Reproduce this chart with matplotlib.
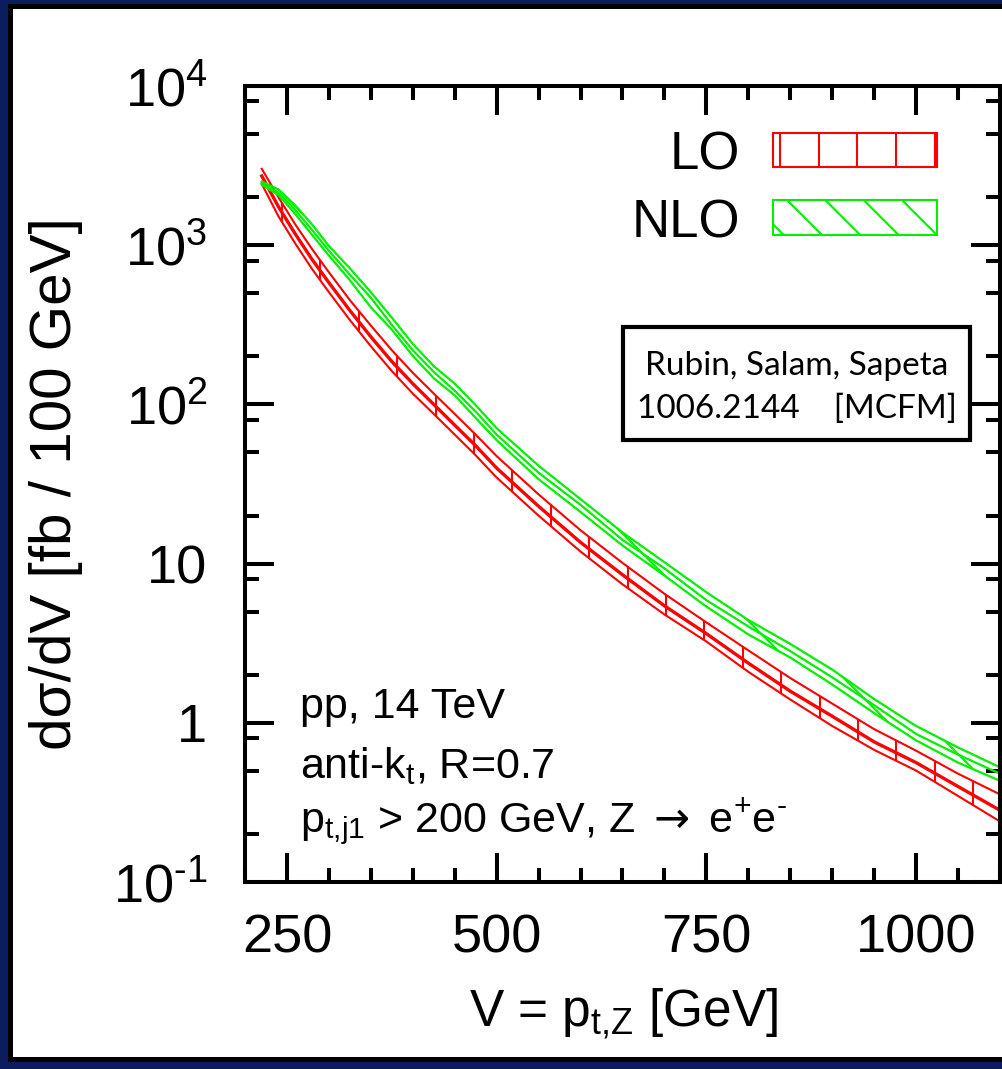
import numpy as np
import matplotlib
matplotlib.use("Agg")
import matplotlib.pyplot as plt
from matplotlib.collections import LineCollection
from matplotlib.patches import Rectangle
from matplotlib.transforms import IdentityTransform
from matplotlib.ticker import MultipleLocator, LogLocator, NullFormatter

plt.rcParams['font.family'] = ['Liberation Sans', 'DejaVu Sans']
plt.rcParams['mathtext.fontset'] = 'custom'
plt.rcParams['mathtext.rm'] = 'Liberation Sans'
plt.rcParams['mathtext.it'] = 'Liberation Sans:italic'
plt.rcParams['mathtext.sf'] = 'DejaVu Sans'
plt.rcParams['mathtext.default'] = 'rm'

# V = pt,Z [GeV]
pt = [220, 240, 260, 280, 300, 325, 350, 375, 400, 425, 450, 475, 500,
      550, 600, 650, 700, 750, 800, 850, 900, 950, 1000, 1050, 1100]

# LO band (fb / 100 GeV)
lo_mid = [2720, 1740, 1175, 813, 582, 389, 266, 186, 135, 100, 74.1, 55.0, 39.8,
          22.9, 13.6, 8.51, 5.43, 3.63, 2.37, 1.58, 1.10, 0.759, 0.562, 0.398, 0.282]
lo_hi = [3020, 1995, 1349, 944, 676, 452, 313, 219, 158, 117, 87.1, 64.6, 47.3,
         27.2, 16.2, 10.1, 6.46, 4.27, 2.85, 1.91, 1.32, 0.912, 0.668, 0.479, 0.355]
lo_lo = [2427, 1514, 1023, 708, 507, 339, 232, 162, 117, 87.1, 64.6, 47.9, 34.7,
         20.0, 11.9, 7.41, 4.79, 3.24, 2.09, 1.40, 0.955, 0.676, 0.501, 0.347, 0.240]

# NLO band
nlo_mid = [2455, 2138, 1660, 1245, 923, 653, 468, 316, 219, 160, 122, 90.2, 64.6,
           37.2, 23.4, 14.1, 9.33, 5.89, 4.03, 2.82, 1.93, 1.29, 0.851, 0.631, 0.479]
nlo_hi = [2512, 2239, 1778, 1349, 989, 716, 507, 351, 240, 174, 135, 98.9, 70.8,
          41.2, 25.4, 15.7, 10.2, 6.61, 4.42, 3.13, 2.16, 1.41, 0.955, 0.700, 0.525]
nlo_lo = [2399, 2065, 1567, 1161, 861, 603, 407, 295, 202, 146, 114, 82.2, 59.6,
          33.9, 21.1, 13.0, 8.41, 5.37, 3.59, 2.57, 1.74, 1.15, 0.776, 0.562, 0.432]

xticks = [250, 500, 750, 1000]
yticks = [0.1, 1, 10, 100, 1000, 10000]
ylabels = ['$10^{\\text{-}1}$', '1', '10', '$10^{2}$', '$10^{3}$', '$10^{4}$']

RED = '#ff0000'
GREEN = '#00f000'
W, H = 1003, 1069

fig = plt.figure(figsize=(W / 100, H / 100), dpi=100, facecolor='#0b1d5c')
# slide frame: black line and white panel (behind the axes)
fig.add_artist(Rectangle((8 / W, 7 / H), 1.0, (H - 4 - 7) / H, facecolor='black',
                         edgecolor='none', transform=fig.transFigure, zorder=-3))
fig.add_artist(Rectangle((13 / W, 12 / H), 1.0, (H - 9 - 12) / H, facecolor='white',
                         edgecolor='none', transform=fig.transFigure, zorder=-2))

ax = fig.add_axes([245 / W, 187 / H, 755 / W, 796 / H])
ax.set_facecolor('white')
ax.set_yscale('log')
ax.set_xlim(200, 1100)
ax.set_ylim(0.1, 1e4)

# bands
lo_band = ax.fill_between(pt, lo_lo, lo_hi, facecolor='none', edgecolor='none')
nlo_band = ax.fill_between(pt, nlo_lo, nlo_hi, facecolor='none', edgecolor='none')

for arr, lw in [(lo_hi, 1.5), (lo_lo, 1.5), (lo_mid, 2.4)]:
    ax.plot(pt, arr, color=RED, lw=lw)
for arr in [nlo_hi, nlo_lo, nlo_mid]:
    ax.plot(pt, arr, color=GREEN, lw=1.6)


def vert_hatch(x_start, step):
    xs = np.arange(x_start - 10 * step, W + 50, step)
    return [[(x, 0), (x, H)] for x in xs]


def diag_hatch(c0, step):
    cs = np.arange(c0 - 60 * step, c0 + 60 * step, step)
    return [[(c, 0), (c - H, H)] for c in cs]


# red band hatch (vertical), pixel space
lc = LineCollection(vert_hatch(282, 38.4), colors=RED, linewidths=1.5,
                    transform=IdentityTransform())
ax.add_collection(lc, autolim=False)
lc.set_clip_path(lo_band.get_paths()[0], ax.transData)

# green band hatch (diagonal)
gc = LineCollection(diag_hatch(1656, 38.3), colors=GREEN, linewidths=1.5,
                    transform=IdentityTransform())
ax.add_collection(gc, autolim=False)
gc.set_clip_path(nlo_band.get_paths()[0], ax.transData)

# legend
r_box = Rectangle((0.699, 0.898), 0.2176, 0.043, transform=ax.transAxes,
                  facecolor='none', edgecolor=RED, lw=1.5)
g_box = Rectangle((0.699, 0.813), 0.2176, 0.044, transform=ax.transAxes,
                  facecolor='none', edgecolor=GREEN, lw=1.5)
ax.add_patch(r_box)
ax.add_patch(g_box)
lr = LineCollection(vert_hatch(780, 38.7), colors=RED, linewidths=1.5,
                    transform=IdentityTransform())
ax.add_collection(lr, autolim=False)
lr.set_clip_path(r_box)
lg = LineCollection(diag_hatch(1656, 38.3), colors=GREEN, linewidths=1.5,
                    transform=IdentityTransform())
ax.add_collection(lg, autolim=False)
lg.set_clip_path(g_box)
ax.text(0.6556, 0.8957, 'LO', transform=ax.transAxes, ha='right', va='baseline', fontsize=38)
ax.text(0.6556, 0.8103, 'NLO', transform=ax.transAxes, ha='right', va='baseline', fontsize=38)

# credit box
ax.add_patch(Rectangle((0.5007, 0.555), 0.459, 0.142, transform=ax.transAxes,
                       facecolor='white', edgecolor='black', lw=3, zorder=5))
ax.text(0.7305, 0.637, 'Rubin, Salam, Sapeta', transform=ax.transAxes, ha='center',
        va='baseline', fontsize=24, family='Lato', zorder=6)
ax.text(0.7305, 0.583, '1006.2144    [MCFM]', transform=ax.transAxes, ha='center',
        va='baseline', fontsize=24, family='Lato', zorder=6)

# process info
ax.text(0.0728, 0.206, 'pp, 14 TeV', transform=ax.transAxes, va='baseline', fontsize=31)
ax.text(0.0728, 0.1307, 'anti-k$_{\\text{t}}$, R=0.7', transform=ax.transAxes,
        va='baseline', fontsize=31)
ax.text(0.0728, 0.0616,
        'p$_{\\text{t,j1}}$ > 200 GeV, Z $\\mathsf{\\rightarrow}$ e$^{+}$e$^{\\text{-}}$',
        transform=ax.transAxes, va='baseline', fontsize=31)

# axes styling
ax.set_xticks(xticks)
ax.xaxis.set_minor_locator(MultipleLocator(50))
ax.set_yticks(yticks)
ax.set_yticklabels(ylabels)
ax.yaxis.set_minor_locator(LogLocator(base=10, subs=(2, 5, 8), numticks=20))
ax.yaxis.set_minor_formatter(NullFormatter())
ax.tick_params(which='both', direction='in', top=True, right=True, width=2.9, colors='black')
ax.tick_params(which='major', length=21, labelsize=39)
ax.tick_params(which='minor', length=10)
ax.tick_params(axis='x', which='major', pad=23)
ax.tick_params(axis='y', which='major', pad=27)
for s in ax.spines.values():
    s.set_linewidth(2.9)

ax.set_ylabel('d\u03c3/dV [fb / 100 GeV]', fontsize=42)
ax.yaxis.set_label_coords(-0.2146, 0.5)
fig.text(624 / W, (H - 1026) / H, 'V = p$_{\\text{t,Z}}$ [GeV]', ha='center', va='baseline',
         fontsize=37)

fig.savefig('out.png', dpi=100, facecolor=fig.get_facecolor())
